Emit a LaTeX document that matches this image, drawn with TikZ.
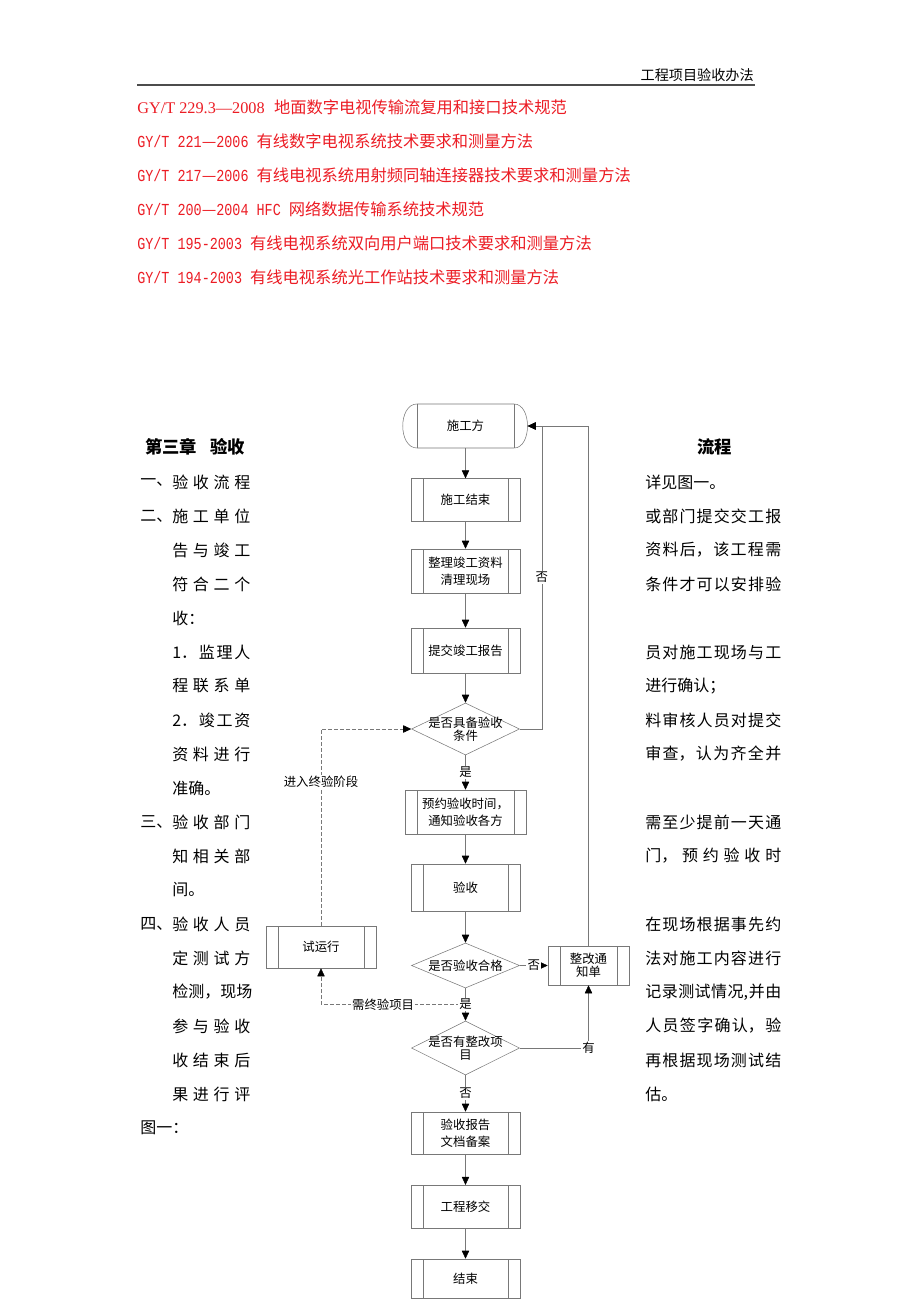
\documentclass[tikz,border=0pt]{standalone}
\usepackage{fontspec}
\setmainfont{Liberation Serif}
\newfontfamily\cjk{Noto Sans CJK SC}
\newfontfamily\asc{Liberation Mono}[FakeStretch=0.8]
\newcommand\ascii{\asc\fontsize{12.6}{14}\selectfont}
\newcommand\spread[2]{\makebox[#1][s]{\spaceskip=0pt plus 1fil\relax #2}}
\usetikzlibrary{shapes.geometric,arrows.meta}

\definecolor{stdred}{RGB}{236,28,36}
\definecolor{flowgray}{RGB}{120,120,120}

\tikzset{
  body/.style={anchor=west,inner sep=0pt,font=\cjk\fontsize{12}{14}\selectfont},
  stdline/.style={anchor=west,inner sep=0pt,text=stdred,font=\cjk\fontsize{12.2}{14}\selectfont},
  proc/.style={draw=flowgray,inner sep=0pt,align=center,
    minimum width=81.75pt,minimum height=32pt,
    font=\cjk\fontsize{9.3}{12.5}\selectfont,
    path picture={\draw[flowgray]
      ([xshift=9pt]path picture bounding box.north west) -- ([xshift=9pt]path picture bounding box.south west)
      ([xshift=-9pt]path picture bounding box.north east) -- ([xshift=-9pt]path picture bounding box.south east);}},
  dec/.style={draw=flowgray,diamond,inner sep=0pt,minimum width=81pt,minimum height=39pt},
  dectext/.style={align=center,inner sep=0pt,font=\cjk\fontsize{9.3}{10}\selectfont},
  flow/.style={draw=flowgray,-{Triangle[color=black,length=6pt,width=5.5pt]}},
  dashflow/.style={flow,dash pattern=on 3pt off 1.5pt},
  lbl/.style={fill=white,inner sep=1pt,font=\cjk\fontsize{9.3}{11}\selectfont},
}

\begin{document}
\begin{tikzpicture}[x=0.75pt,y=-0.75pt]
  \fill[white] (0,0) rectangle (920,1302);
  \useasboundingbox (0,0) rectangle (920,1302);

  % page header
  \node[anchor=east,inner sep=0pt,font=\cjk\fontsize{10.6}{12}\selectfont] (hdr) at (754,75) {工程项目验收办法};
  \draw[line width=1.5pt,black!70] (137,85) -- (755,85);

  % standards
  \node[stdline] (s1) at (137,107) {{\rmfamily GY/T 229.3—2008}\hspace{7pt}地面数字电视传输流复用和接口技术规范};
  \node[stdline] (s2) at (137,141) {{\ascii GY/T 221}—{\ascii 2006 }有线数字电视系统技术要求和测量方法};
  \node[stdline] (s3) at (137,175) {{\ascii GY/T 217}—{\ascii 2006 }有线电视系统用射频同轴连接器技术要求和测量方法};
  \node[stdline] (s4) at (137,209) {{\ascii GY/T 200}—{\ascii 2004 HFC }网络数据传输系统技术规范};
  \node[stdline] (s5) at (137,243) {{\ascii GY/T 195-2003 }有线电视系统双向用户端口技术要求和测量方法};
  \node[stdline] (s6) at (137,277) {{\ascii GY/T 194-2003 }有线电视系统光工作站技术要求和测量方法};

  % chapter text, left and right of the chart
  \node[body,font=\cjk\bfseries\fontsize{13}{15}\selectfont] (ch3) at (145,447) {第三章\hspace{0.75em}验收};
  \node[body,font=\cjk\bfseries\fontsize{13}{15}\selectfont] (ch3r) at (697,447) {流程};
  \foreach \y/\t [count=\i] in {482/一、,516/二、,822/三、,924/四、,1128/图一：}
    \node[body] (lp\i) at (140,\y) {\t};
  \foreach \y/\t [count=\i] in {482/{验 收 流 程},516/{施 工 单 位},550/{告 与 竣 工},584/{符 合 二 个},
      618/{收：\hfill},652/{1． 监 理 人},686/{程 联 系 单},720/{2． 竣 工 资},754/{资 料 进 行},
      788/{准确。\hfill},822/{验 收 部 门},856/{知 相 关 部},890/{间。\hfill},924/{验 收 人 员},
      958/{定 测 试 方},992/{检 测，现 场},1026/{参 与 验 收},1060/{收 结 束 后},1094/{果 进 行 评}}
    \node[body] (lt\i) at (172,\y) {\spread{58.5pt}{\t}};
  \foreach \y/\t [count=\i] in {482/{详见图一。\hfill},516/{或 部 门 提 交 交 工 报},550/{资 料 后， 该 工 程 需},
      584/{条 件 才 可 以 安 排 验},652/{员 对 施 工 现 场 与 工},686/{进行确认；\hfill},
      720/{料 审 核 人 员 对 提 交},754/{审 查， 认 为 齐 全 并},822/{需 至 少 提 前 一 天 通},
      856/{门， 预 约 验 收 时},924/{在 现 场 根 据 事 先 约},958/{法 对 施 工 内 容 进 行},
      992/{记 录 测 试 情 况{,} 并 由},1026/{人 员 签 字 确 认， 验},1060/{再 根 据 现 场 测 试 结},
      1094/{估。\hfill}}
    \node[body] (rt\i) at (645,\y) {\spread{102pt}{\t}};

  % flow chart
  \node[inner sep=0pt,minimum width=93pt,minimum height=33pt,font=\cjk\fontsize{9.3}{12.5}\selectfont] (sg) at (465.5,426) {施工方};
  \draw[flowgray] (417,404) -- (514,404) .. controls (532,404) and (532,448) .. (514,448)
    -- (417,448) .. controls (398,448) and (398,404) .. (417,404);
  \draw[flowgray] (417,404) -- (417,448) (514,404) -- (514,448);

  \node[proc] (p1) at (465.5,500) {施工结束};
  \node[proc,minimum height=33pt] (p2) at (465.5,571) {整理竣工资料\\清理现场};
  \node[proc,minimum height=33.75pt] (p3) at (465.5,650.5) {提交竣工报告};
  \node[dec] (d1) at (465.5,729) {};
  \node[dectext] (d1t) at (d1) {是否具备验收\\条件};
  \node[proc,minimum width=90.75pt,minimum height=33pt] (p4) at (465.5,812) {预约验收时间，\\通知验收各方};
  \node[proc,minimum height=35.25pt] (p5) at (465.5,887.5) {验收};
  \node[dec,minimum height=33.75pt] (d2) at (465.5,965.5) {};
  \node[dectext] (d2t) at (d2) {是否验收合格};
  \node[proc,minimum width=82.5pt,minimum height=31.5pt] (try) at (321,947) {试运行};
  \node[proc,minimum width=60.75pt,minimum height=29.25pt,font=\cjk\fontsize{9.3}{10}\selectfont] (fix) at (588.5,965.5) {整改通\\知单};
  \node[dec,minimum height=40.5pt] (d3) at (465.5,1048) {};
  \node[dectext] (d3t) at (d3) {是否有整改项\\目};
  \node[proc,minimum height=31.5pt] (p6) at (465.5,1133) {验收报告\\文档备案};
  \node[proc] (p7) at (465.5,1206.5) {工程移交};
  \node[proc,minimum height=29.25pt] (p8) at (465.5,1278.5) {结束};
  \coordinate (jn) at (465.5,1004.5);

  \draw[dashflow] (jn) -| node[lbl,pos=0.285] (nd1) {需终验项目} (try);
  \draw[dashflow] (try) |- node[lbl,pos=0.365] (nd2) {进入终验阶段} (d1);

  \draw[flow] (sg) -- (p1);
  \draw[flow] (p1) -- (p2);
  \draw[flow] (p2) -- (p3);
  \draw[flow] (p3) -- (d1);
  \draw[flow] (d1.east) -- ++(22,0) |- node[lbl,pos=0.25] (no1) {否} (sg.east);
  \draw[flow] (d1) -- node[lbl] (yes1) {是} (p4);
  \draw[flow] (p4) -- (p5);
  \draw[flow] (p5) -- (d2);
  \draw[flow] (d2) -- node[lbl] (no2) {否} (fix);
  \draw[flow] (fix) |- (sg.east);
  \draw[flow] (d2) -- node[lbl] (yes2) {是} (d3);
  \draw[flow] (d3) -| node[lbl] (has) {有} (fix);
  \draw[flow] (d3) -- node[lbl] (no3) {否} (p6);
  \draw[flow] (p6) -- (p7);
  \draw[flow] (p7) -- (p8);
\end{tikzpicture}
\end{document}
